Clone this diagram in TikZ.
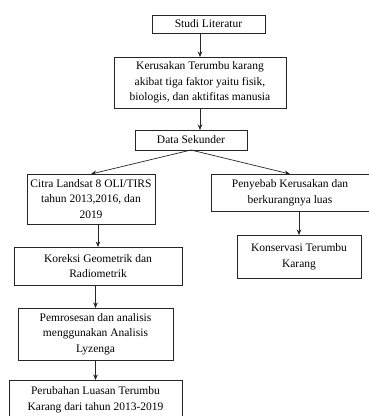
\documentclass[tikz,border=0pt]{standalone}
\usepackage{fontspec}
\setmainfont{Liberation Serif}
\usetikzlibrary{arrows.meta}
\begin{document}
\begin{tikzpicture}[x=1pt,y=-1pt,
  boxline/.style={draw=black!85, line width=0.7pt},
  lbl/.style={align=center, inner sep=0pt, font=\fontsize{11.5}{15.5}\selectfont, text=black},
  conn/.style={draw=black!85, line width=0.7pt, -{Stealth[length=5.5pt,width=4.5pt]}}]
\useasboundingbox (0,0) rectangle (369,416);
\clip (0,0) rectangle (369,416);
\fill[white] (0,0) rectangle (369,416);
% boxes: name, x1, y1, x2, y2, text
\newcommand{\mybox}[6]{%
  \path[boxline] (#2,#3) rectangle (#4,#5);
  \node[lbl] (#1) at ({(#2+#4)/2},{(#3+#5)/2}) {#6};
  \coordinate (#1-n) at ({(#2+#4)/2},#3);
  \coordinate (#1-s) at ({(#2+#4)/2},#5);
}
\mybox{studi}{152}{15}{265}{33}{Studi Literatur}
\mybox{kerus}{114}{57}{286}{108}{Kerusakan Terumbu karang\\akibat tiga faktor yaitu fisik,\\biologis, dan aktifitas manusia}
\mybox{data}{135}{130}{247}{150}{Data Sekunder}
\mybox{citra}{27}{174}{155}{224}{Citra Landsat 8 OLI/TIRS\\tahun 2013,2016, dan\\2019}
\mybox{penye}{211}{174}{369}{211}{Penyebab Kerusakan dan\\berkurangnya luas}
\mybox{kor}{14}{247}{182}{285}{Koreksi Geometrik dan\\Radiometrik}
\mybox{kons}{237}{235}{361}{278}{Konservasi Terumbu\\Karang}
\mybox{pemro}{18}{308}{173}{360}{Pemrosesan dan analisis\\menggunakan Analisis\\Lyzenga}
\mybox{perub}{9}{380}{182}{419}{Perubahan Luasan Terumbu\\Karang dari tahun 2013-2019}
% connectors
\draw[conn] (kerus-n |- studi-s) -- (kerus-n);
\draw[conn] (kerus-s) -- (kerus-s |- data-n);
\draw[conn] (data-s) -- (citra-n);
\draw[conn] (data-s) -- (penye-n);
\draw[conn] (kor-n |- citra-s) -- (kor-n);
\draw[conn] (kons-n |- penye-s) -- (kons-n);
\draw[conn] (pemro-n |- kor-s) -- (pemro-n);
\draw[conn] (pemro-s) -- (pemro-s |- perub-n);
\end{tikzpicture}
\end{document}
